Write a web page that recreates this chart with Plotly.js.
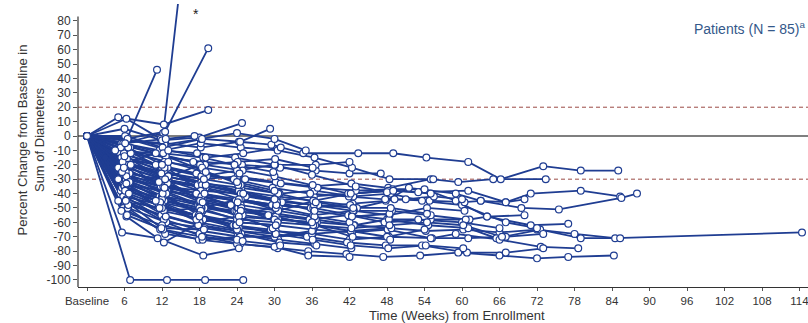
<!DOCTYPE html>
<html>
<head>
<meta charset="utf-8">
<script src="https://cdn.plot.ly/plotly-3.0.1.min.js"></script>
<style>html,body{margin:0;padding:0;background:#fff;overflow:hidden;}#chart{width:808px;height:323px;}</style>
</head>
<body>
<div id="chart"></div>
<script>
// x tick positions (weeks) and labels
const tickWeeks = [0, 6, 12, 18, 24, 30, 36, 42, 48, 54, 60, 66, 72, 78, 84, 90, 96, 102, 108, 114];
const tickLabels = ['Baseline', '6', '12', '18', '24', '30', '36', '42', '48', '54', '60', '66', '72', '78', '84', '90', '96', '102', '108', '114'];
const yTicks = [-100, -90, -80, -70, -60, -50, -40, -30, -20, -10, 0, 10, 20, 30, 40, 50, 60, 70, 80];
const yTickLabels = ['-100', '-90', '-80', '-70', '-60', '-50', '-40', '-30', '-20', '-10', '0', '10', '20', '30', '40', '50', '60', '70', '80'];

// one row per patient: assessment week
const patientWeeks = [
  [0, 6.1, 12.5, 18.2, 24.3, 29.5, 34.6, 43.4, 49.0, 54.3, 61.0, 66.2, 73.0, 79.0, 85.0],      // 1
  [0, 5.8, 12.0, 18.4, 24.1, 30.2, 36.0, 42.3, 48.2, 55.0, 59.4, 65.0, 73.4],                  // 2
  [0, 6.4, 12.2, 18.0, 24.6, 30.0, 36.3, 42.0, 49.0, 53.0, 61.0, 67.0, 71.0, 79.0, 85.3],      // 3
  [0, 5.5, 11.8, 17.6, 23.8, 29.6, 35.8, 42.5, 47.8, 51.5, 59.0, 63.0, 69.5, 75.5, 85.5, 88.0],// 4
  [0, 6.0, 12.1, 18.5, 24.4, 30.4, 36.5, 42.2, 48.5, 54.2, 60.2, 66.0, 72.0, 78.0, 84.5, 114.4],// 5
  [0, 6.6, 12.7, 18.8, 24.9, 30.6, 36.8, 42.8, 48.0, 54.6, 61.0, 65.5, 72.5, 79.0, 85.3],      // 6
  [0, 5.7, 11.6, 17.8, 23.6, 29.8, 35.6, 41.8, 47.6, 55.0, 61.2, 64.0, 71.0, 77.0],            // 7
  [0, 6.2, 12.3, 18.3, 24.0, 30.1, 36.1, 42.0, 48.3, 55.2, 59.0, 66.0, 72.6, 78.6],            // 8
  [0, 6.3, 12.6, 18.6, 24.5, 30.5, 35.4, 41.5, 47.4, 53.3, 59.4, 66.0, 72.0, 77.0, 84.3],      // 9
  [0, 5.9, 11.9, 18.1, 24.2, 30.3, 36.2, 42.4, 48.1, 55.0, 61.0, 67.0, 73.0],                  // 10
  [0, 6.5, 12.4, 18.6, 24.7, 30.8, 36.4, 42.6, 48.6, 53.6, 60.0, 67.0, 72.0],                  // 11
  [0, 5.4, 11.5, 17.4, 23.4, 29.4, 35.2, 41.6, 47.8, 53.6, 60.8, 67.0, 73.0],                  // 12
  [0, 6.0, 12.9, 19.2, 25.3, 31.0, 36.9, 43.0, 48.9, 54.0, 59.0, 64.0, 70.0],                  // 13
  [0, 6.8, 13.0, 19.0, 25.4, 31.2, 37.0, 43.2, 49.2, 54.8, 60.4, 63.0, 67.0, 70.0],            // 14
  [0, 6.2, 12.6, 18.7, 24.8, 30.9, 36.6, 42.0, 47.0],                                          // 15
  [0, 5.8, 11.7, 17.9, 24.0, 30.0, 35.4, 42.0],                                                // 16
  [0, 6.4, 12.8, 18.4, 24.5, 30.7, 36.2, 42.7, 48.4, 54.4, 60.4],                              // 17
  [0, 5.3, 11.4, 17.5, 23.5, 29.7, 35.7, 41.9, 47.7, 51.0, 55.5, 60.0],                        // 18
  [0, 6.7, 12.2, 18.2, 24.6, 30.5, 36.4, 42.4, 48.4, 55.4],                                    // 19
  [0, 6.1, 12.0, 18.6, 24.3, 30.2, 36.0, 42.2, 48.0, 54.0],                                    // 20
  [0, 5.6, 12.4, 18.3, 23.9, 29.9, 36.5, 42.5, 48.5],                                          // 21
  [0, 6.3, 12.1, 17.7, 24.2, 30.4, 36.3, 42.1],                                                // 22
  [0, 6.9, 12.5, 18.9, 24.9, 30.0, 36.1, 41.8, 48.2],                                          // 23
  [0, 5.9, 11.9, 18.1, 24.1, 30.6, 36.4, 42.3],                                                // 24
  [0, 6.0, 12.3, 18.5, 24.4, 30.3, 36.2, 42.4, 48.3, 53.0, 60.0, 66.0],                        // 25
  [0, 5.5, 11.6, 17.6, 23.7, 30.1, 36.0, 43.0, 48.0],                                          // 26
  [0, 6.6, 12.7, 18.8, 24.7, 30.8, 36.7],                                                      // 27
  [0, 6.2, 12.4, 18.2, 24.0, 30.0, 35.0],                                                      // 28
  [0, 6.4, 12.2, 18.3, 24.3, 30.2, 36.3, 42.6, 48.8, 55.0, 60.6],                              // 29
  [0, 5.7, 12.0, 18.0, 24.1, 30.4, 36.6, 42.7, 48.7],                                          // 30
  [0, 6.1, 12.3, 18.4, 24.4, 30.0, 36.0],                                                      // 31
  [0, 6.5, 12.6, 18.6, 24.6, 30.6, 36.4, 42.0],                                                // 32
  [0, 6.0, 12.1, 18.1, 24.2, 30.2, 36.2, 42.3, 48.4, 54.4, 60.2, 66.4],                        // 33
  [0, 6.3, 12.0, 18.3, 24.0, 30.0, 36.6, 42.0],                                                // 34
  [0, 5.6, 11.8, 17.8, 23.8, 30.1, 36.1, 42.2, 48.2, 54.2, 60.2],                              // 35
  [0, 6.4, 12.4, 18.4, 24.6, 30.4, 36.4, 42.4, 48.4],                                          // 36
  [0, 6.2, 12.2, 18.2, 24.2, 30.2],                                                            // 37
  [0, 6.6, 12.5, 18.5, 24.6, 30.6, 36.2, 42.2, 49.0, 55.0],                                    // 38
  [0, 5.8, 12.0, 18.0, 24.0, 30.0, 36.0],                                                      // 39
  [0, 6.0, 12.6, 18.6, 24.6, 30.6, 36.6, 42.6, 48.6, 54.4],                                    // 40
  [0, 6.5, 12.5, 18.5, 24.5],                                                                  // 41
  [0, 6.1, 12.1, 18.1, 24.1, 30.1, 36.1],                                                      // 42
  [0, 5.9, 12.2, 18.2, 24.2, 30.2],                                                            // 43
  [0, 6.3, 12.3, 18.3, 24.3, 30.3],                                                            // 44
  [0, 6.9, 12.8, 18.9, 25.0],                                                                  // 45
  [0, 6.0, 12.2, 17.0],                                                                        // 46
  [0, 6.2, 12.5, 19.4],                                                                        // 47
  [0, 5.0, 12.3, 19.4],                                                                        // 48
  [0, 6.5, 11.2],                                                                              // 49
  [0, 6.3, 11.8],                                                                              // 50
  [0, 5.6, 11.3, 18.6, 24.3],                                                                  // 51
  [0, 6.3, 12.3, 18.0, 24.0],                                                                  // 52
  [0, 6.0, 12.0, 18.0, 24.8],                                                                  // 53
  [0, 6.1, 12.1, 18.4, 24.5, 29.3],                                                            // 54
  [0, 5.5, 11.0],                                                                              // 55
  [0, 6.2],                                                                                    // 56
  [0, 5.0, 12.0],                                                                              // 57
  [0, 6.2, 12.2, 18.2],                                                                        // 58
  [0, 6.4, 12.4, 18.4, 24.4],                                                                  // 59
  [0, 7.0, 13.0, 19.0, 25.0, 30.0],                                                            // 60
  [0, 6.0, 12.0, 18.0, 24.0],                                                                  // 61
  [0, 5.5, 12.0, 18.0, 24.0],                                                                  // 62
  [0, 5.9, 12.4],                                                                              // 63
  [0, 6.1, 11.7, 18.2],                                                                        // 64
  [0, 5.8, 12.2, 18.6, 23.6, 29.8],                                                            // 65
  [0, 5.0, 11.5, 17.5, 23.0, 29.0],                                                            // 66
  [0, 6.6, 12.6, 17.8],                                                                        // 67
  [0, 5.4],                                                                                    // 68
  [0, 6.7],                                                                                    // 69
  [0, 6.3, 12.9, 18.3, 24.7, 30.5],                                                            // 70
  [0, 5.7, 11.9, 18.7, 24.2],                                                                  // 71
  [0, 6.8, 12.7],                                                                              // 72
  [0, 6.4, 12.2, 18.4, 24.9, 30.9],                                                            // 73
  [0, 5.6, 12.1, 17.9, 23.9],                                                                  // 74
  [0, 6.5, 13.0, 19.0, 25.0, 31.0],                                                            // 75
  [0, 6.0, 12.5, 18.1, 24.6],                                                                  // 76
  [0, 5.0, 11.0, 17.5],                                                                        // 77
  [0, 7.0, 13.0, 19.0, 24.0, 30.0],                                                            // 78
  [0, 6.2, 11.9, 18.7],                                                                        // 79
  [0, 5.9, 12.4, 18.5, 24.3, 29.7],                                                            // 80
  [0, 6.6, 12.0, 18.8, 24.1],                                                                  // 81
  [0, 6.1, 12.6, 17.2],                                                                        // 82
  [0, 4.5, 11.0, 17.0],                                                                        // 83
  [0, 6.3, 11.6, 18.0, 24.4, 30.2]                                                             // 84
];

// one row per patient: percent change from baseline in sum of diameters
const patientPct = [
  [0, -3, -5, -8, -4, -6, -12, -12, -12, -15, -18, -30, -21, -24, -24],          // 1
  [0, -18, -25, -30, -28, -32, -35, -33, -36, -30, -32, -30, -30],              // 2
  [0, -22, -30, -38, -40, -45, -42, -40, -38, -39, -38, -46, -40, -38, -42],    // 3
  [0, -25, -35, -40, -45, -48, -50, -47, -45, -36, -40, -45, -50, -51, -43, -40],// 4
  [0, -30, -45, -52, -58, -60, -62, -66, -64, -66, -65, -67, -65, -68, -71, -67],// 5
  [0, -28, -40, -50, -55, -58, -60, -62, -58, -62, -64, -71, -65, -71, -71],    // 6
  [0, -32, -42, -48, -52, -55, -58, -55, -60, -58, -58, -56, -62, -61],         // 7
  [0, -40, -55, -62, -66, -70, -68, -72, -70, -71, -68, -72, -77, -78],         // 8
  [0, -45, -60, -70, -75, -78, -80, -82, -84, -83, -81, -83, -85, -84, -83],    // 9
  [0, -35, -50, -55, -60, -62, -65, -67, -65, -71, -71, -70, -68],              // 10
  [0, -20, -28, -33, -36, -40, -38, -42, -40, -45, -48, -60, -64],              // 11
  [0, -38, -48, -55, -62, -65, -70, -74, -76, -76, -81, -81, -78],              // 12
  [0, -15, -22, -28, -30, -33, -36, -38, -37, -37, -45, -56, -55],              // 13
  [0, -26, -32, -36, -42, -46, -48, -50, -44, -45, -46, -45, -46, -44],         // 14
  [0, -10, -15, -18, -20, -22, -24, -26, -26],                                  // 15
  [0, -50, -65, -72, -75, -77, -83, -84],                                       // 16
  [0, -30, -38, -42, -45, -50, -55, -52, -55, -50, -52],                        // 17
  [0, -12, -20, -26, -30, -36, -40, -42, -44, -44, -42, -44],                   // 18
  [0, -18, -10, -5, -8, -10, -15, -22, -30, -30],                               // 19
  [0, -40, -52, -58, -64, -66, -68, -66, -70, -65],                             // 20
  [0, -35, -45, -50, -52, -56, -62, -70, -72],                                  // 21
  [0, -22, -30, -34, -38, -42, -45, -48],                                       // 22
  [0, -8, -14, -20, -24, -28, -34, -40, -38],                                   // 23
  [0, -45, -55, -62, -68, -72, -75, -78],                                       // 24
  [0, -28, -36, -40, -44, -48, -50, -55, -58, -58, -60, -64],                   // 25
  [0, -5, -10, -12, -15, -20, -27, -35, -39],                                   // 26
  [0, -50, -60, -64, -68, -74, -76],                                            // 27
  [0, -3, -6, -2, 2, -2, -10],                                                  // 28
  [0, -15, -25, -32, -38, -44, -48, -52, -52, -55, -58],                        // 29
  [0, -32, -42, -46, -50, -54, -58, -62, -64],                                  // 30
  [0, -42, -58, -66, -70, -70, -66],                                            // 31
  [0, -20, -30, -36, -44, -52, -56, -60],                                       // 32
  [0, -24, -33, -44, -50, -56, -62, -64, -62, -60, -62, -70],                   // 33
  [0, -10, -22, -28, -24, -20, -20, -18],                                       // 34
  [0, -36, -46, -56, -62, -68, -72, -76, -78, -76, -78],                        // 35
  [0, -16, -24, -34, -40, -46, -52, -56, -54],                                  // 36
  [0, -30, -42, -54, -66, -68],                                                 // 37
  [0, -20, -38, -44, -48, -52, -45, -40, -38, -40],                             // 38
  [0, -42, -48, -60, -56, -58, -60],                                            // 39
  [0, -6, -14, -24, -34, -40, -46, -50, -50, -54],                              // 40
  [0, -50, -68, -72, -70],                                                      // 41
  [0, -26, -30, -20, -18, -16, -22],                                            // 42
  [0, -34, -38, -48, -54, -50],                                                 // 43
  [0, -44, -52, -50, -44, -48],                                                 // 44
  [0, -100, -100, -100, -100],                                                  // 45
  [0, -5, 2, 185],                                                              // 46
  [0, -2, 3, 61],                                                               // 47
  [0, 13, 8, 18],                                                               // 48
  [0, -1, 46],                                                                  // 49
  [0, 12, -2],                                                                  // 50
  [0, -67, -71, -83, -78],                                                      // 51
  [0, -56, -74, -60, -65],                                                      // 52
  [0, 5, -3, -1, 9],                                                            // 53
  [0, 0, -8, -2, -4, 5],                                                        // 54
  [0, -15, -20],                                                                // 55
  [0, -25],                                                                     // 56
  [0, -45, -50],                                                                // 57
  [0, -30, -35, -38],                                                           // 58
  [0, -10, -18, -22, -26],                                                      // 59
  [0, -20, -28, -34, -40, -44],                                                 // 60
  [0, -35, -44, -50, -58],                                                      // 61
  [0, -52, -62, -68, -72],                                                      // 62
  [0, -12, -22],                                                                // 63
  [0, -38, -46, -52],                                                           // 64
  [0, -5, -12, -15, -20, -25],                                                  // 65
  [0, -22, -32, -40, -48, -55],                                                 // 66
  [0, -48, -56, -62],                                                           // 67
  [0, -8],                                                                      // 68
  [0, -40],                                                                     // 69
  [0, -28, -33, -42, -50, -60],                                                 // 70
  [0, -18, -26, -30, -34],                                                      // 71
  [0, -32, -40],                                                                // 72
  [0, -55, -65, -70, -73, -76],                                                 // 73
  [0, -25, -40, -55, -62],                                                      // 74
  [0, -2, -10, -15, -12, -8],                                                   // 75
  [0, -14, -30, -45, -52],                                                      // 76
  [0, -30, -45, -58],                                                           // 77
  [0, -12, -18, -25, -32, -38],                                                 // 78
  [0, -45, -64, -65],                                                           // 79
  [0, -22, -36, -46, -56, -64],                                                 // 80
  [0, -8, -20, -40, -46],                                                       // 81
  [0, -5, -2, 0],                                                               // 82
  [0, -10, -12, -18],                                                           // 83
  [0, -33, -50, -56, -60, -62]                                                  // 84
];

// patient with a single early assessment (solid marker)
const soloWeek = [2.9];
const soloPct = [-15];

const responseLines = [20, -30];   // PD and PR thresholds

const LINE = '#1f3d92';
const FONT = 'Liberation Sans, Arial, sans-serif';

const traces = [];
patientWeeks.forEach((w, i) => {
  traces.push({
    x: w, y: patientPct[i], type: 'scatter', mode: 'lines',
    line: {color: LINE, width: 1.8}, hoverinfo: 'skip', showlegend: false
  });
});
const mx = [], my = [];
patientWeeks.forEach((w, i) => { w.forEach((v, j) => { mx.push(v); my.push(patientPct[i][j]); }); });
traces.push({
  x: mx, y: my, type: 'scatter', mode: 'markers', cliponaxis: true,
  marker: {size: 6.8, color: '#ffffff', line: {color: LINE, width: 1.2}},
  hoverinfo: 'skip', showlegend: false
});
traces.push({
  x: soloWeek, y: soloPct, type: 'scatter', mode: 'markers',
  marker: {size: 6, color: LINE}, hoverinfo: 'skip', showlegend: false
});

const shapes = [
  {type: 'line', xref: 'paper', x0: 0, x1: 1, yref: 'y', y0: responseLines[0], y1: responseLines[0],
   line: {color: '#9b4a45', width: 1, dash: '4px,3px'}, layer: 'below'},
  {type: 'line', xref: 'paper', x0: 0, x1: 1, yref: 'y', y0: responseLines[1], y1: responseLines[1],
   line: {color: '#9b4a45', width: 1, dash: '4px,3px'}, layer: 'below'},
  {type: 'line', xref: 'paper', x0: 0, x1: 1, yref: 'y', y0: 0, y1: 0,
   line: {color: '#555555', width: 1.3}, layer: 'below'},
  {type: 'line', xref: 'paper', x0: 0, x1: 0, yref: 'y', y0: -104.9, y1: 83,
   line: {color: '#333333', width: 1.2}}
];

const layout = {
  width: 808, height: 323,
  margin: {l: 78, r: 0, t: 4, b: 36},
  paper_bgcolor: '#ffffff', plot_bgcolor: '#ffffff',
  font: {family: FONT, color: '#333333', size: 11.5},
  showlegend: false,
  xaxis: {
    range: [-1.44, 115.36], tickvals: tickWeeks, ticktext: tickLabels,
    showgrid: false, zeroline: false, showline: true, linecolor: '#333333', linewidth: 1.2,
    ticks: 'outside', ticklen: 3, tickcolor: '#555555', tickfont: {size: 11.5, color: '#333333'},
    ticklabeloverflow: 'allow'
  },
  yaxis: {
    range: [-104.9, 91.7], tickvals: yTicks, ticktext: yTickLabels,
    showgrid: false, zeroline: false, showline: false,
    ticks: 'outside', ticklen: 4, tickcolor: '#555555', tickfont: {size: 12, color: '#333333'}
  },
  shapes: shapes,
  annotations: [
    {text: 'Percent Change from Baseline in<br>Sum of Diameters', xref: 'paper', yref: 'paper',
     x: -0.065, y: 0.52, xanchor: 'center', yanchor: 'middle', textangle: -90, showarrow: false,
     font: {size: 13, color: '#333333', family: FONT}},
    {text: 'Time (Weeks) from Enrollment', xref: 'paper', yref: 'paper',
     x: 0.519, y: -0.1, xanchor: 'center', yanchor: 'middle', showarrow: false,
     font: {size: 13, color: '#333333', family: FONT}},
    {text: 'Patients (N = 85)<sup>a</sup>', xref: 'paper', yref: 'paper',
     x: 0.999, y: 0.915, xanchor: 'right', yanchor: 'middle', showarrow: false,
     font: {size: 14, color: '#34588a', family: FONT}},
    {text: '*', xref: 'x', yref: 'y', x: 17.4, y: 85, showarrow: false,
     font: {size: 14, color: '#222222', family: FONT}}
  ]
};

Plotly.newPlot('chart', traces, layout, {staticPlot: true, displayModeBar: false});
</script>
</body>
</html>
